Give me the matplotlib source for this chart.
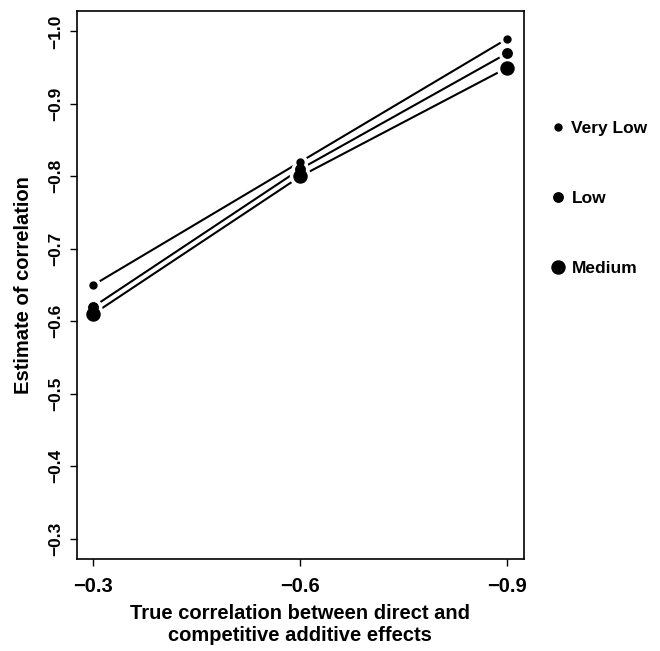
import matplotlib
matplotlib.use('Agg')
import matplotlib.pyplot as plt
from matplotlib.lines import Line2D

plt.rcParams['font.family'] = ['Liberation Sans', 'DejaVu Sans']
plt.rcParams['font.weight'] = 'bold'

# true correlation (x) and estimates per level
true_corr = [-0.3, -0.6, -0.9]
very_low = [-0.65, -0.82, -0.99]
low = [-0.62, -0.81, -0.97]
medium = [-0.61, -0.80, -0.95]
labels = ['Very Low', 'Low', 'Medium']
x_ticks = [-0.3, -0.6, -0.9]
y_ticks = [-0.3, -0.4, -0.5, -0.6, -0.7, -0.8, -0.9, -1.0]

fig = plt.figure(figsize=(6.6, 6.51), dpi=100)
ax = fig.add_axes([0.1162, 0.1413, 0.794 - 0.1162, 0.983 - 0.1413])

sizes = [5.0, 6.8, 9.4]
series = [very_low, low, medium]
for vals, ms in zip(series, sizes):
    ax.plot(true_corr, vals, color='black', lw=1.5, zorder=2)
for vals, ms in zip(series, sizes):
    ax.plot(true_corr, vals, 'o', color='white', ms=ms + 5, mec='white', zorder=3)
for vals, ms in zip(series, sizes):
    ax.plot(true_corr, vals, 'o', color='black', ms=ms, mec='black', zorder=4)

ax.set_xlim(-0.3 + 0.024, -0.9 - 0.024)
ax.set_ylim(-0.3 + 0.028, -1.0 - 0.028)
ax.set_xticks(x_ticks)
ax.set_xticklabels(['\u22120.3', '\u22120.6', '\u22120.9'])
ax.set_yticks(y_ticks)
ax.set_yticklabels(['\u2212%.1f' % abs(v) for v in y_ticks], rotation=90, va='center')
ax.tick_params(length=5, width=1.0, direction='out')
ax.tick_params(axis='x', labelsize=14.5, pad=8)
ax.tick_params(axis='y', labelsize=12.5, pad=5)
for s in ax.spines.values():
    s.set_linewidth(1.2)

ax.set_xlabel('True correlation between direct and\ncompetitive additive effects',
              fontsize=14.5, fontweight='bold', labelpad=6, linespacing=1.2)
ax.set_ylabel('Estimate of correlation', fontsize=14.5, fontweight='bold', labelpad=11)

handles = [Line2D([], [], ls='none', marker='o', color='black', ms=ms) for ms in sizes]
fig.legend(handles, labels, loc='upper left', bbox_to_anchor=(0.808, 0.838),
           frameon=False, labelspacing=3.15, handletextpad=0.3,
           handlelength=1.0, prop={'weight': 'bold', 'size': 12.5})

fig.savefig('out.png', dpi=100)
